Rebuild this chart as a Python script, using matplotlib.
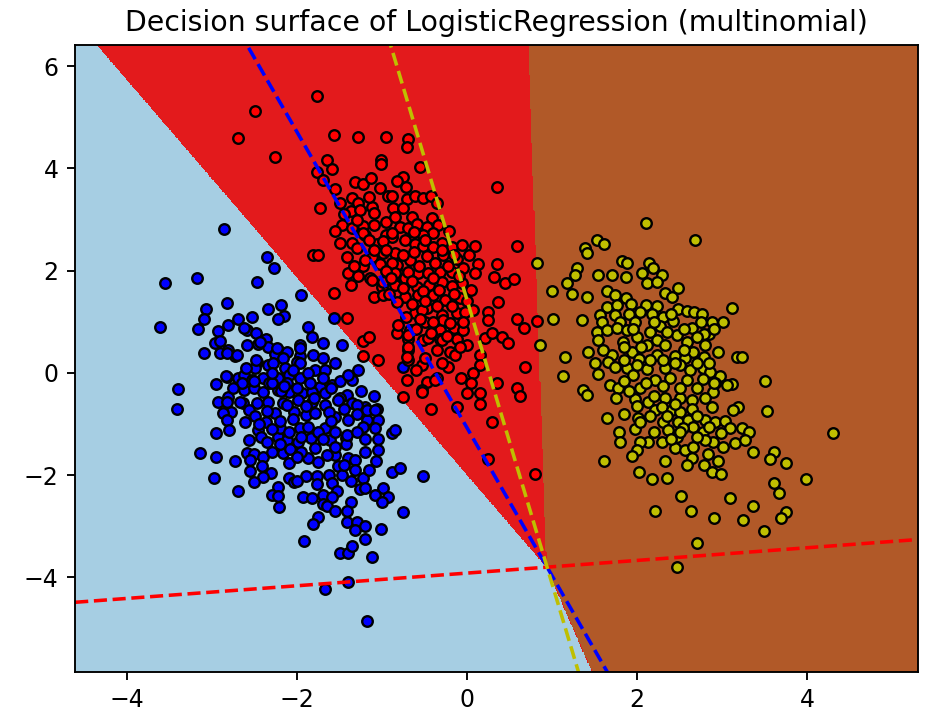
import numpy as np
import matplotlib
matplotlib.use("Agg")
from matplotlib import pyplot as plt

# multinomial logistic regression weights, estimated from where the
# decision boundaries and the dashed hyperplanes cross the axes
coef = np.array([[-2.895, -1.000],
                 [-0.058, 0.468],
                 [2.953, 0.532]])
intercept = np.array([-1.079, 1.833, -0.754])

title = "Decision surface of LogisticRegression (multinomial)"
region_colors = ["#a6cee3", "#e31a1c", "#b15928"]
point_colors = ["b", "r", "y"]

# training points (x, y)
blue_pts = np.array([
    (-2.35, 2.26), (-2.27, 2.05), (-2.47, 1.77), (-1.95, 1.52), (-2.82, 1.36), (-2.34, 1.25),
    (-2.19, 1.33), (-2.15, 1.11), (-2.23, 1.05), (-2.69, 1.05), (-2.53, 1.09), (-2.81, 0.94),
    (-1.57, 1.07), (-1.87, 0.90), (-1.83, 0.70), (-1.70, 0.58), (-1.47, 0.55), (-2.59, 0.84),
    (-2.48, 0.78), (-2.37, 0.66), (-2.59, 0.55), (-2.46, 0.57), (-2.34, 0.51), (-2.23, 0.45),
    (-2.12, 0.41), (-1.96, 0.55), (-1.81, 0.35), (-2.73, 0.33), (-2.81, 0.45), (-2.47, 0.21),
    (-2.34, 0.16), (-2.26, 0.37), (-2.16, 0.29), (-1.96, 0.33), (-2.00, 0.21), (-2.49, 0.10),
    (-2.14, 0.10), (-1.79, 0.06), (-1.67, 0.06), (-1.28, 0.06), (-1.35, -0.14), (-2.82, -0.08),
    (-2.70, -0.10), (-2.63, -0.04), (-2.53, -0.14), (-2.40, -0.10), (-2.22, -0.10), (-2.10, -0.04),
    (-1.96, -0.10), (-1.87, 0.00), (-1.73, -0.27), (-1.70, -0.10), (-2.63, -0.33), (-2.51, -0.29),
    (-2.40, -0.37), (-2.23, -0.33), (-2.10, -0.37), (-1.94, -0.39), (-1.82, -0.37), (-1.67, -0.39),
    (-1.41, -0.43), (-2.81, -0.47), (-2.64, -0.58), (-2.47, -0.58), (-2.34, -0.57), (-2.16, -0.58),
    (-1.99, -0.53), (-1.82, -0.57), (-1.67, -0.62), (-1.49, -0.49), (-1.35, -0.58), (-1.20, -0.66),
    (-1.06, -0.70), (-2.78, -0.76), (-2.57, -0.72), (-2.26, -0.78), (-2.04, -0.76), (-1.90, -0.82),
    (-1.79, -0.78), (-1.55, -0.86), (-1.40, -0.92), (-1.18, -0.92), (-1.05, -0.92),
    (-2.86, 2.81), (-3.55, 1.75), (-3.18, 1.85), (-3.07, 1.25), (-3.10, 1.05), (-3.17, 0.86),
    (-3.61, 0.90), (-2.93, 0.82), (-2.63, 0.88), (-2.96, 0.58), (-2.91, 0.62), (-3.09, 0.39),
    (-2.91, 0.39), (-2.82, 0.39), (-2.71, 0.35), (-2.44, 0.60), (-2.24, 0.49), (-2.48, 0.25),
    (-2.28, 0.19), (-2.84, -0.06), (-2.95, -0.21), (-2.51, -0.16), (-2.33, -0.19), (-2.12, -0.19),
    (-2.19, -0.35), (-3.40, -0.31), (-3.41, -0.70), (-2.93, -0.57), (-2.82, -0.57), (-2.87, -0.78),
    (-2.67, -0.57), (-2.12, -0.62), (-2.82, -0.92), (-2.61, -0.97), (-2.37, -0.96),
    (-1.96, 0.49), (-0.75, 0.12), (-1.96, 0.19), (-1.59, -0.23), (-1.29, -0.62), (-1.18, -0.72),
    (-1.08, -0.72), (-1.52, -0.53), (-1.63, -0.76),
    (-2.95, -1.17), (-2.80, -1.11), (-2.46, -1.11), (-2.57, -1.31), (-2.43, -1.25), (-2.35, -1.35),
    (-2.23, -1.25), (-2.12, -1.31), (-2.20, -1.07), (-3.14, -1.56), (-2.95, -1.64), (-2.73, -1.73),
    (-2.59, -1.56), (-2.51, -1.58), (-2.40, -1.64), (-2.55, -1.70), (-2.16, -1.56), (-2.08, -1.48),
    (-2.10, -1.77), (-2.55, -1.91), (-2.41, -1.83), (-2.31, -1.95), (-2.40, -2.03), (-2.98, -2.05),
    (-2.51, -2.14), (-2.10, -2.05), (-2.04, -2.14), (-2.22, -2.24), (-2.69, -2.32), (-2.29, -2.38),
    (-2.23, -2.40), (-2.21, -2.63),
    (-1.96, -1.07), (-1.87, -1.05), (-1.67, -1.07), (-1.23, -1.05), (-1.08, -1.07), (-0.88, -1.17),
    (-0.85, -1.11), (-1.99, -1.35), (-1.84, -1.27), (-1.79, -1.46), (-1.61, -1.31), (-1.43, -1.27),
    (-1.43, -1.40), (-1.41, -1.21), (-1.87, -1.66), (-1.55, -1.60), (-1.40, -1.66), (-1.32, -1.70),
    (-1.07, -1.73), (-1.52, -1.83), (-1.32, -1.89), (-1.90, -2.01), (-1.76, -2.01), (-1.63, -1.99),
    (-1.47, -1.99), (-1.23, -2.05), (-0.88, -1.93), (-0.79, -1.87), (-0.52, -2.01), (-2.00, -2.12),
    (-1.76, -2.18), (-1.59, -2.16), (-1.37, -2.12), (-1.26, -2.28), (-1.20, -2.26), (-0.99, -2.26),
    (-0.93, -2.42), (-1.08, -2.38), (-1.53, -2.32), (-1.93, -2.42), (-1.82, -2.44), (-1.69, -2.38),
    (-1.59, -2.42), (-1.70, -2.57), (-1.65, -2.61), (-1.55, -2.71), (-1.37, -2.53), (-1.41, -2.71),
    (-1.00, -2.53), (-0.75, -2.73), (-1.75, -2.81), (-1.81, -2.96), (-1.41, -2.92), (-1.29, -2.92),
    (-1.32, -3.08), (-1.20, -3.00), (-1.20, -3.24), (-1.01, -3.06), (-1.92, -3.29), (-1.49, -3.53),
    (-1.40, -3.53), (-1.35, -3.39), (-1.12, -3.61), (-1.67, -4.23), (-1.40, -4.09), (-1.18, -4.85),
    # dense core
    (-2.30, -0.20), (-2.15, -0.25), (-2.00, -0.30), (-1.85, -0.20), (-1.60, -0.30), (-1.50, -0.15),
    (-1.45, -0.70), (-1.60, -0.95), (-1.75, -1.15), (-1.55, -1.15), (-1.30, -1.15), (-1.20, -1.30),
    (-1.05, -1.30), (-1.30, -0.80), (-1.90, -0.65), (-2.05, -0.90), (-2.20, -0.95), (-2.35, -0.75),
    (-2.50, -0.85), (-2.45, -1.00), (-2.30, -1.10), (-2.10, -1.15), (-1.95, -1.25), (-1.70, -1.30),
    (-1.55, -1.45), (-1.65, -1.60), (-1.95, -1.55), (-2.20, -1.40), (-2.30, -1.55), (-1.75, -1.75),
    (-1.45, -1.80), (-1.20, -1.55), (-1.15, -1.90), (-1.40, -0.05), (-1.55, 0.20), (-1.70, 0.30),
    (-2.05, 0.05), (-2.30, 0.00), (-2.60, 0.10), (-2.65, -0.20), (-2.75, -0.30), (-1.80, -0.50),
    (-2.00, -1.65), (-1.05, -1.50), (-1.10, -0.45), (-1.25, -0.35),
])

red_pts = np.array([
    (-1.77, 5.42), (-2.49, 5.13), (-2.69, 4.60), (-2.26, 4.23), (-1.57, 4.66), (-1.28, 4.62),
    (-0.96, 4.62), (-1.65, 4.17), (-1.01, 4.17), (-1.01, 4.09), (-1.76, 3.94), (-1.59, 3.98),
    (-1.70, 3.78), (-1.56, 3.59), (-1.73, 3.22), (-1.49, 3.33), (-1.32, 3.74), (-1.23, 3.70),
    (-1.13, 3.82), (-1.02, 3.61), (-0.93, 3.47), (-1.35, 3.43), (-1.28, 3.33), (-1.37, 3.16),
    (-1.26, 3.18), (-1.12, 3.24), (-1.10, 3.12), (-1.47, 2.90), (-1.55, 2.77), (-1.36, 2.83),
    (-1.22, 2.87), (-1.09, 2.90), (-1.49, 2.55), (-1.35, 2.55), (-1.20, 2.69), (-1.06, 2.53),
    (-0.96, 2.69),
    (-0.69, 4.58), (-0.71, 4.42), (-0.55, 4.03), (-0.76, 3.84), (-0.82, 3.76), (-0.72, 3.63),
    (-0.88, 3.47), (-0.71, 3.41), (-0.61, 3.47), (-0.52, 3.43), (-0.43, 3.47), (-0.36, 3.33),
    (-0.87, 3.22), (-0.75, 3.22), (-0.65, 3.06), (-0.41, 3.04), (-0.79, 2.85), (-0.69, 2.83),
    (-0.59, 2.92), (-0.47, 2.85), (-0.34, 2.90), (-0.21, 2.77), (-0.40, 2.73), (-0.52, 2.69),
    (-0.88, 2.65), (-0.73, 2.61), (-0.61, 2.53), (-0.29, 2.55), (-0.52, 2.48), (-0.40, 2.46),
    (-0.18, 2.46), (-0.06, 2.50), (0.09, 2.48), (0.59, 2.48), (0.35, 3.63),
    (-1.81, 2.30), (-1.75, 2.30), (-1.41, 2.26), (-1.23, 2.09), (-1.12, 2.26), (-1.02, 2.14),
    (-1.40, 1.95), (-1.28, 1.89), (-1.14, 1.85), (-1.37, 1.72), (-1.00, 1.68), (-1.57, 1.56),
    (-1.10, 1.48), (-0.99, 1.52), (-1.41, 1.07), (-1.23, 0.62), (-1.16, 0.70), (-1.22, 0.33),
    (-1.05, 0.25),
    (-0.82, 2.11), (-0.67, 2.20), (-0.47, 2.28), (-0.28, 2.30), (-0.12, 2.22), (0.02, 2.30),
    (0.13, 2.14), (0.35, 2.14), (-0.79, 1.91), (-0.58, 1.95), (-0.46, 1.95), (-0.32, 1.97),
    (-0.18, 1.97), (-0.06, 1.75), (0.09, 1.95), (0.31, 1.87), (0.45, 1.75), (0.55, 1.83),
    (-0.85, 1.72), (-0.71, 1.77), (-0.59, 1.68), (-0.45, 1.72), (-0.29, 1.77), (-0.18, 1.70),
    (0.04, 1.62), (-0.73, 1.48), (-0.58, 1.52), (-0.40, 1.52), (-0.26, 1.42), (-0.08, 1.46),
    (0.07, 1.23), (0.25, 1.19), (0.36, 1.38), (0.24, 1.03), (0.59, 1.05), (0.67, 0.88),
    (0.82, 1.01), (-0.61, 1.17), (-0.47, 1.27), (-0.29, 1.13), (-0.12, 1.17), (-0.82, 0.78),
    (-0.67, 0.84), (-0.49, 0.99), (-0.32, 0.84), (-0.16, 0.88), (-0.05, 0.84), (-0.69, 0.66),
    (-0.52, 0.64), (-0.32, 0.66), (-0.12, 0.66), (0.00, 0.55), (0.21, 0.68), (0.29, 0.78),
    (0.41, 0.70), (0.48, 0.58), (0.68, 0.12), (-0.69, 0.45), (-0.69, 0.25), (-0.53, 0.16),
    (-0.20, 0.41), (-0.14, 0.35), (0.15, 0.35), (0.15, 0.16), (-0.22, 0.12), (-0.71, -0.14),
    (-0.47, -0.18), (-0.35, -0.10), (-0.07, -0.10), (0.07, 0.00), (0.04, -0.20), (0.35, -0.20),
    (0.59, -0.29), (0.62, -0.45), (-0.76, -0.47), (-0.53, -0.33), (0.00, -0.39), (0.15, -0.39),
    (0.15, -0.60), (-0.43, -0.70), (-0.12, -0.66), (0.29, -0.96),
    (-1.23, 2.73), (-0.99, 2.34), (-0.99, 2.59), (-0.88, 2.73), (-0.85, 2.34), (-0.88, 2.16),
    (-0.85, 1.95), (-0.99, 1.77), (-0.73, 1.85), (-0.76, 1.66), (-0.82, 1.38), (-0.81, 0.94),
    (-0.69, 0.74), (-0.69, 0.51), (-0.71, 0.31), (-0.53, -0.37), (-0.38, -0.14), (-0.53, 1.23),
    (-0.28, 1.03), (-0.29, 0.64), (-0.46, 0.68), (-1.12, 1.81), (0.24, -1.68), (0.80, -1.97),
    # dense core
    (-0.95, 2.95), (-0.85, 3.05), (-0.62, 2.75), (-0.50, 2.60), (-0.30, 2.40), (-0.15, 2.30),
    (-0.63, 2.37), (-0.75, 2.30), (-0.95, 2.40), (-1.10, 2.40), (-0.57, 2.10), (-0.38, 2.15),
    (-0.22, 2.10), (-0.05, 2.05), (-0.95, 2.00), (-0.70, 1.98), (-0.40, 1.85), (-0.10, 1.90),
    (-0.90, 1.85), (-0.65, 1.80), (-0.52, 1.60), (-0.33, 1.62), (-0.15, 1.55), (0.00, 1.40),
    (-0.92, 1.55), (-0.65, 1.35), (-0.50, 1.40), (-0.35, 1.30), (-0.18, 1.30), (-0.02, 1.20),
    (-0.72, 1.10), (-0.55, 1.05), (-0.40, 1.00), (-0.20, 0.98), (-0.05, 1.00), (-0.60, 0.85),
    (-0.42, 0.78), (-0.24, 0.72), (-0.08, 0.50), (-0.35, 0.45), (-0.50, 0.30), (-0.60, 0.05),
    (-0.30, 0.20), (-1.30, 2.45), (-1.15, 2.60), (-1.30, 3.00), (-1.15, 3.45), (-1.45, 3.10),
    (-1.20, 2.20), (-1.33, 2.10),
])

yellow_pts = np.array([
    (0.82, 2.16), (1.00, 1.60), (1.01, 1.05), (0.86, 0.55),
    (2.10, 2.94), (2.68, 2.61), (1.53, 2.61), (1.61, 2.53), (1.39, 2.44), (1.41, 2.34),
    (1.82, 2.18), (1.88, 2.16), (1.29, 2.05), (1.27, 1.91), (1.18, 1.75), (1.23, 1.54),
    (1.54, 1.91), (1.70, 1.91), (1.87, 1.87), (2.14, 2.16), (2.19, 2.05), (2.06, 1.95),
    (2.29, 1.91), (2.12, 1.75), (2.23, 1.77), (1.41, 1.48), (1.65, 1.60), (1.74, 1.52),
    (1.87, 1.46), (2.33, 1.56), (2.41, 1.48), (2.48, 1.66), (1.35, 1.03), (1.65, 1.29),
    (1.76, 1.33), (1.93, 1.35), (2.10, 1.33), (2.23, 1.31), (2.03, 1.19), (2.17, 1.15),
    (2.30, 1.09), (2.48, 1.25), (2.59, 1.21), (2.67, 1.19), (1.56, 1.13), (1.59, 0.99),
    (1.74, 1.13), (1.80, 0.99), (1.90, 1.15), (1.97, 0.99), (1.53, 0.80), (1.65, 0.84),
    (1.76, 0.88), (1.88, 0.84), (2.15, 0.80), (2.27, 0.92), (2.42, 1.01), (2.64, 0.88),
    (1.54, 0.64), (1.42, 0.41), (1.83, 0.60), (2.12, 0.55), (2.23, 0.64), (2.47, 0.74),
    (2.33, 0.55), (2.59, 0.60), (2.66, 0.41), (1.70, 0.35), (1.94, 0.41), (2.02, 0.27),
    (2.23, 0.35), (2.44, 0.33), (2.56, 0.29), (1.15, 0.31), (1.66, 0.21), (1.74, 0.12),
    (1.88, 0.10), (2.12, 0.08), (2.33, 0.10), (2.50, 0.16), (2.62, 0.06), (1.13, -0.06),
    (1.54, -0.02), (1.68, -0.23), (1.77, -0.29), (1.95, -0.04), (2.03, -0.29), (2.21, -0.14),
    (2.39, -0.10), (2.59, -0.14), (1.36, -0.33),
    (3.11, 1.27), (2.76, 1.15), (2.88, 0.99), (3.01, 0.99), (2.84, 0.76), (2.78, 0.76),
    (2.78, 0.31), (3.17, 0.31), (3.23, 0.31), (2.77, 0.10), (2.86, 0.02), (2.97, -0.06),
    (3.11, -0.21), (3.06, -0.23), (2.77, -0.12), (2.91, -0.19), (3.50, -0.16), (2.89, -0.37),
    (1.41, -0.43), (1.75, -0.49), (1.97, -0.51), (2.13, -0.57), (2.33, -0.49), (2.50, -0.49),
    (2.64, -0.53), (1.65, -0.88), (1.79, -1.15), (1.97, -1.09), (2.01, -0.88), (2.03, -0.97),
    (2.21, -0.72), (2.29, -0.66), (2.30, -0.97), (2.41, -0.72), (2.50, -0.76), (2.36, -1.11),
    (2.48, -0.97), (2.60, -0.92), (2.66, -1.05), (2.54, -1.07), (2.47, -1.25), (2.13, -1.36),
    (2.29, -1.36), (2.03, -1.35), (2.44, -1.46), (2.56, -1.50), (2.66, -1.44), (2.00, -1.50),
    (1.94, -1.62), (2.64, -1.66), (2.59, -1.81), (1.61, -1.73), (2.33, -1.73), (2.02, -1.93),
    (2.17, -2.07), (2.35, -2.05), (2.51, -2.40), (2.21, -2.71), (2.63, -2.71), (2.70, -3.33),
    (2.47, -3.80),
    (2.88, -0.66), (3.18, -0.66), (3.13, -0.72), (3.53, -0.74), (4.30, -1.17), (2.80, -0.92),
    (2.91, -0.97), (3.03, -0.94), (3.09, -1.07), (3.23, -1.07), (3.31, -1.15), (2.77, -1.15),
    (2.99, -1.17), (2.89, -1.35), (2.80, -1.31), (3.15, -1.38), (3.27, -1.31), (3.01, -1.44),
    (2.83, -1.58), (3.36, -1.54), (3.61, -1.54), (3.56, -1.68), (3.75, -1.77), (2.95, -1.73),
    (2.78, -1.81), (2.88, -1.93), (2.99, -1.97), (3.98, -2.07), (3.61, -2.16), (3.67, -2.34),
    (3.09, -2.44), (3.36, -2.61), (3.75, -2.73), (3.69, -2.83), (2.90, -2.83), (3.24, -2.87),
    (3.49, -3.10),
    # dense core
    (1.85, 0.25), (2.00, 0.15), (2.15, 0.25), (2.30, 0.25), (2.45, 0.20), (2.70, 0.20),
    (2.85, 0.20), (2.95, 0.40), (2.80, 0.55), (2.70, 0.70), (2.55, 0.85), (2.35, 0.80),
    (2.00, 0.70), (2.05, 0.50), (1.95, 0.85), (2.20, 1.00), (2.40, 1.15), (2.75, 1.00),
    (2.90, 0.85), (1.85, -0.15), (2.10, -0.20), (2.30, -0.25), (2.50, -0.30), (2.70, -0.30),
    (2.80, -0.50), (2.65, -0.70), (2.45, -0.60), (2.20, -0.45), (1.90, -0.35), (2.00, -0.65),
    (2.15, -0.85), (2.35, -0.85), (2.70, -0.85), (2.85, -1.05), (2.70, -1.25), (2.40, -1.30),
    (2.20, -1.15), (2.50, -1.15), (1.85, -0.80), (1.80, -1.35), (2.90, -0.20), (2.55, 0.45),
    (1.60, 0.45), (1.50, 0.20), (1.85, 0.50),
])

classes = [blue_pts, red_pts, yellow_pts]
X = np.vstack(classes)
x_min, x_max = X[:, 0].min() - 1, X[:, 0].max() + 1
y_min, y_max = X[:, 1].min() - 1, X[:, 1].max() + 1

# predicted class over a grid
xx, yy = np.meshgrid(np.linspace(x_min, x_max, 700), np.linspace(y_min, y_max, 700))
scores = coef[:, 0, None, None] * xx + coef[:, 1, None, None] * yy + intercept[:, None, None]
Z = scores.argmax(axis=0)

fig, ax = plt.subplots(figsize=(928 / 170, 711 / 170), dpi=170)
fig.subplots_adjust(left=0.081, right=0.989, top=0.937, bottom=0.055)

ax.contourf(xx, yy, Z, levels=[-0.5, 0.5, 1.5, 2.5], colors=region_colors)
ax.set_title(title)

for pts, c in zip(classes, point_colors):
    ax.scatter(pts[:, 0], pts[:, 1], c=c, edgecolor="black", s=20)

# one hyperplane per class
def line(k, x0):
    return (-(x0 * coef[k, 0]) - intercept[k]) / coef[k, 1]

for k, c in enumerate(point_colors):
    ax.plot([x_min, x_max], [line(k, x_min), line(k, x_max)], ls="--", color=c)

ax.set_xlim(x_min, x_max)
ax.set_ylim(y_min, y_max)

fig.savefig("out.png")
